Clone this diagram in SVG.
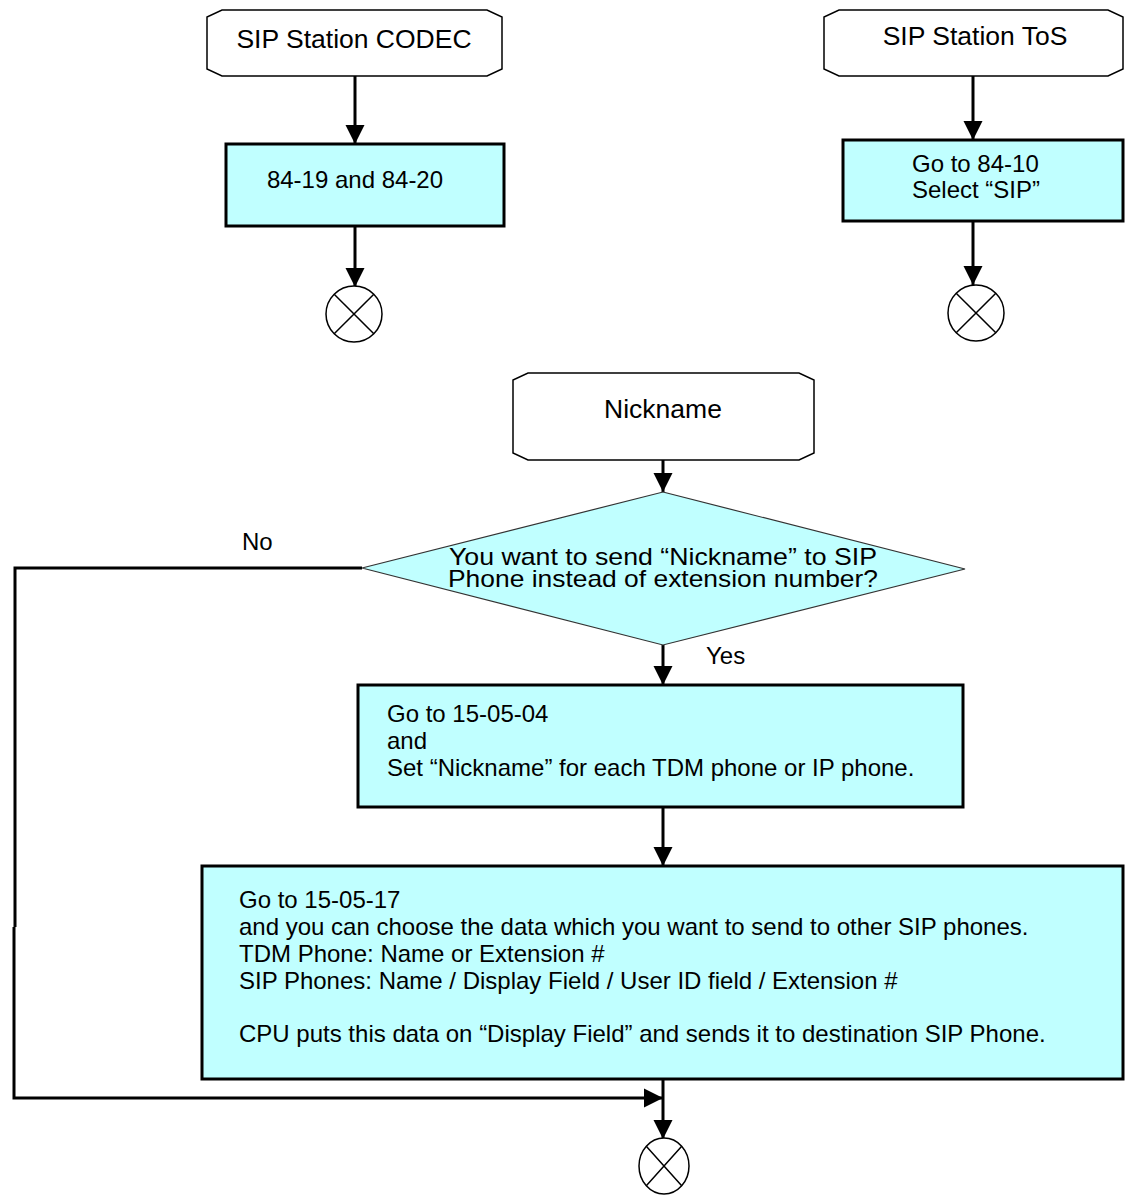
<svg xmlns="http://www.w3.org/2000/svg" width="1127" height="1199" viewBox="0 0 1127 1199">
  <style>
    .term { fill: #ffffff; stroke: #000000; stroke-width: 1.5; }
    .proc { fill: #c0ffff; stroke: #000000; stroke-width: 3; }
    .dec { fill: #c0ffff; stroke: #333333; stroke-width: 1.2; }
    .end { fill: #ffffff; stroke: #000000; stroke-width: 1.5; }
    .wire { fill: none; stroke: #000000; stroke-width: 3; }
    text { font-family: "Liberation Sans", Arial, sans-serif; fill: #000000; }
    .tl { font-size: 26.5px; text-anchor: middle; }
    .bl { font-size: 24px; }
    .dl { font-size: 24px; text-anchor: middle; }
  </style>
  <defs>
    <marker id="arrow" viewBox="0 0 10 10" refX="10" refY="5" markerWidth="6.5" markerHeight="6.5" markerUnits="strokeWidth" orient="auto">
      <path d="M0,0 L10,5 L0,10 z" fill="#000000"/>
    </marker>
  </defs>

  <!-- connectors -->
  <g id="connectors">
    <line class="wire" x1="355" y1="76" x2="355" y2="144" marker-end="url(#arrow)"/>
    <line class="wire" x1="355" y1="226" x2="355" y2="287" marker-end="url(#arrow)"/>
    <line class="wire" x1="973" y1="76" x2="973" y2="140" marker-end="url(#arrow)"/>
    <line class="wire" x1="973" y1="221" x2="973" y2="285" marker-end="url(#arrow)"/>
    <line class="wire" x1="663" y1="460" x2="663" y2="492" marker-end="url(#arrow)"/>
    <line class="wire" x1="663" y1="645" x2="663" y2="685" marker-end="url(#arrow)"/>
    <line class="wire" x1="663" y1="807" x2="663" y2="866" marker-end="url(#arrow)"/>
    <line class="wire" x1="663" y1="1079" x2="663" y2="1139" marker-end="url(#arrow)"/>
    <!-- "No" branch around the left side -->
    <polyline class="wire" points="362,568 15,568 15,927"/>
    <polyline class="wire" points="14,927 14,1098 663,1098" marker-end="url(#arrow)"/>
    <text class="bl" x="242" y="550">No</text>
    <text class="bl" x="706" y="664">Yes</text>
  </g>

  <g id="codec-start">
    <path class="term" d="M222,10 L487,10 L502,17 L502,69 L487,76 L222,76 L207,69 L207,17 Z"/>
    <text class="tl" x="354" y="48">SIP Station CODEC</text>
  </g>
  <g id="codec-step">
    <rect class="proc" x="226" y="144" width="278" height="82"/>
    <text class="bl" x="355" y="188" text-anchor="middle">84-19 and 84-20</text>
  </g>
  <g id="codec-end">
    <circle class="end" cx="354" cy="314" r="28"/>
    <path class="end" d="M334.2,294.2 L373.8,333.8 M373.8,294.2 L334.2,333.8"/>
  </g>

  <g id="tos-start">
    <path class="term" d="M839,10 L1108,10 L1123,17 L1123,69 L1108,76 L839,76 L824,69 L824,17 Z"/>
    <text class="tl" x="975" y="45">SIP Station ToS</text>
  </g>
  <g id="tos-step">
    <rect class="proc" x="843" y="140" width="280" height="81"/>
    <text class="bl" x="912" y="172">Go to 84-10</text>
    <text class="bl" x="912" y="198">Select “SIP”</text>
  </g>
  <g id="tos-end">
    <circle class="end" cx="976" cy="313" r="28"/>
    <path class="end" d="M956.2,293.2 L995.8,332.8 M995.8,293.2 L956.2,332.8"/>
  </g>

  <g id="nickname-start">
    <path class="term" d="M528,373 L799,373 L814,380 L814,453 L799,460 L528,460 L513,453 L513,380 Z"/>
    <text class="tl" x="663" y="418">Nickname</text>
  </g>
  <g id="nickname-question">
    <polygon class="dec" points="663,492 965,569 663,645 362,568"/>
    <text class="dl" x="663" y="565" textLength="428" lengthAdjust="spacingAndGlyphs">You want to send “Nickname” to SIP</text>
    <text class="dl" x="663" y="587" textLength="430" lengthAdjust="spacingAndGlyphs">Phone instead of extension number?</text>
  </g>
  <g id="set-nickname">
    <rect class="proc" x="358" y="685" width="605" height="122"/>
    <text class="bl" x="387" y="722">Go to 15-05-04</text>
    <text class="bl" x="387" y="749">and</text>
    <text class="bl" x="387" y="776">Set “Nickname” for each TDM phone or IP phone.</text>
  </g>
  <g id="choose-data">
    <rect class="proc" x="202" y="866" width="921" height="213"/>
    <text class="bl" x="239" y="908">Go to 15-05-17</text>
    <text class="bl" x="239" y="935">and you can choose the data which you want to send to other SIP phones.</text>
    <text class="bl" x="239" y="962">TDM Phone: Name or Extension #</text>
    <text class="bl" x="239" y="989">SIP Phones: Name / Display Field / User ID field / Extension #</text>
    <text class="bl" x="239" y="1042">CPU puts this data on “Display Field” and sends it to destination SIP Phone.</text>
  </g>
  <g id="final-end">
    <ellipse class="end" cx="664" cy="1166" rx="25" ry="28"/>
    <path class="end" d="M646.3,1146.2 L681.7,1185.8 M681.7,1146.2 L646.3,1185.8"/>
  </g>
</svg>
